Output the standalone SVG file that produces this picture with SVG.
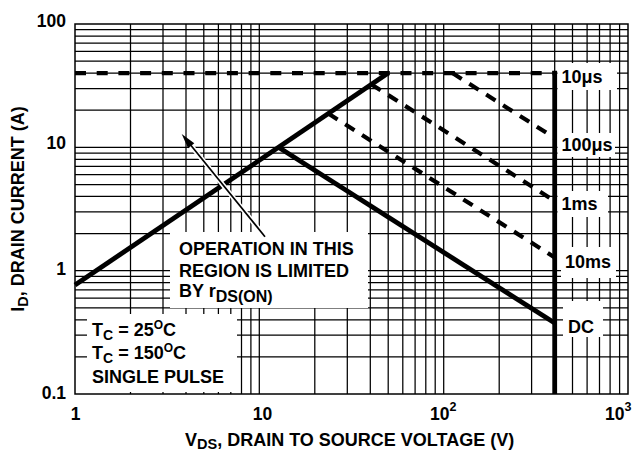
<svg xmlns="http://www.w3.org/2000/svg" width="637" height="453" viewBox="0 0 637 453">
<style>
.grid{stroke:#000;stroke-width:1.25;fill:none}
.border{stroke:#000;stroke-width:1.5;fill:none}
.heavy{stroke:#000;stroke-width:4.8;fill:none;stroke-linecap:butt}
.dash{stroke:#000;stroke-width:4.2;fill:none;stroke-dasharray:11 9}
.hdash{stroke:#000;stroke-width:4.2;fill:none;stroke-dasharray:11 10.7}
.box{fill:#fff;stroke:none}
text{font-family:"Liberation Sans",Arial,Helvetica,sans-serif;font-weight:bold;fill:#000}
.lbl{font-size:18px}
.tick{font-size:17.5px}
</style>
<rect x="0" y="0" width="637" height="453" fill="#fff"/>
<g id="grid">
<path class="grid" d="M130.5 24V394M163 24V394M186 24V394M203.8 24V394M218.4 24V394M230.8 24V394M241.5 24V394M250.9 24V394M259.3 24V394M314.8 24V394M347.3 24V394M370.3 24V394M388.2 24V394M402.8 24V394M415.1 24V394M425.8 24V394M435.2 24V394M443.7 24V394M499.2 24V394M531.6 24V394M554.7 24V394M572.5 24V394M587.1 24V394M599.5 24V394M610.1 24V394M619.6 24V394"/>
<path class="grid" d="M75 356.9H628M75 335.2H628M75 319.8H628M75 307.8H628M75 298H628M75 289.8H628M75 282.6H628M75 276.3H628M75 270.7H628M75 233.5H628M75 211.8H628M75 196.4H628M75 184.5H628M75 174.7H628M75 166.4H628M75 159.3H628M75 153H628M75 147.3H628M75 110.2H628M75 88.5H628M75 73.1H628M75 61.1H628M75 51.4H628M75 43.1H628M75 36H628M75 29.6H628"/>
</g>
<g id="label-boxes">
<rect class="box" x="170" y="232" width="198" height="76"/>
<rect class="box" x="87" y="314" width="150" height="78"/>
<rect class="box" x="557.5" y="63" width="59.5" height="27"/>
<rect class="box" x="557.5" y="133" width="57.5" height="24"/>
<rect class="box" x="557.5" y="191" width="50.5" height="26"/>
<rect class="box" x="561" y="247" width="55" height="31"/>
<rect class="box" x="563" y="301" width="40" height="36"/>
</g>
<rect id="plot-frame" class="border" x="75" y="24" width="553" height="370"/>
<g id="connectors">
<path id="rds-limit" class="heavy" d="M75 285L388.2 73.1"/>
<path id="dc" class="heavy" d="M278.5 147.3L554.7 323"/>
<path id="vdss" class="heavy" d="M554.7 70.8V394"/>
<path id="i-10us" class="hdash" d="M75 73.1H554"/>
<path id="i-100us" class="dash" d="M452.4 73.1L554.7 138"/>
<path id="i-1ms" class="dash" d="M371.4 84.4L554.7 201"/>
<path id="i-10ms" class="dash" d="M328.3 113.6L554.7 257.5"/>
<g id="arrow">
<path d="M265 236.7L188 142" stroke="#fff" stroke-width="5" fill="none"/>
<path d="M265 236.7L189 143" stroke="#000" stroke-width="1.7" fill="none"/>
<polygon points="181.7,134 194.3,143.2 188.1,148.3" fill="#000"/>
</g>
</g>
<g id="node-labels">
<text id="lbl-10us" class="lbl" x="561.5" y="83">10μs</text>
<text id="lbl-100us" class="lbl" x="561.5" y="150.5">100μs</text>
<text id="lbl-1ms" class="lbl" x="561.5" y="210">1ms</text>
<text id="lbl-10ms" class="lbl" x="565" y="268">10ms</text>
<text id="lbl-dc" class="lbl" x="568" y="333">DC</text>
</g>
<g id="note-rds">
<text class="lbl" x="179" y="255">OPERATION IN THIS</text>
<text class="lbl" x="179" y="277">REGION IS LIMITED</text>
<text class="lbl" x="179" y="297">BY r<tspan font-size="16" dy="4.5">DS(ON)</tspan></text>
</g>
<g id="note-conditions">
<text class="lbl" x="92" y="335.5">T<tspan font-size="14" dy="4">C</tspan><tspan dy="-4"> = 25</tspan><tspan font-size="12" dy="-7">O</tspan><tspan dy="7">C</tspan></text>
<text class="lbl" x="92" y="359">T<tspan font-size="14" dy="4">C</tspan><tspan dy="-4"> = 150</tspan><tspan font-size="12" dy="-7">O</tspan><tspan dy="7">C</tspan></text>
<text class="lbl" x="92" y="383">SINGLE PULSE</text>
</g>
<g id="y-ticks" text-anchor="end">
<text class="tick" x="66" y="27">100</text>
<text class="tick" x="66" y="148.5">10</text>
<text class="tick" x="66" y="275">1</text>
<text class="tick" x="66" y="399">0.1</text>
</g>
<g id="x-ticks">
<text class="tick" x="75.5" y="420" text-anchor="middle">1</text>
<text class="tick" x="262.5" y="420" text-anchor="middle">10</text>
<text class="tick" x="430" y="420">10<tspan font-size="12.5" dy="-9">2</tspan></text>
<text class="tick" x="605" y="420">10<tspan font-size="12.5" dy="-9">3</tspan></text>
</g>
<text id="x-title" class="lbl" x="185" y="445.5">V<tspan font-size="14.5" dy="3.5">DS</tspan><tspan dy="-3.5">, DRAIN TO SOURCE VOLTAGE (V)</tspan></text>
<text id="y-title" class="lbl" transform="translate(24 209) rotate(-90)" text-anchor="middle">I<tspan font-size="14.5" dy="3.5">D</tspan><tspan dy="-3.5">, DRAIN CURRENT (A)</tspan></text>
</svg>
